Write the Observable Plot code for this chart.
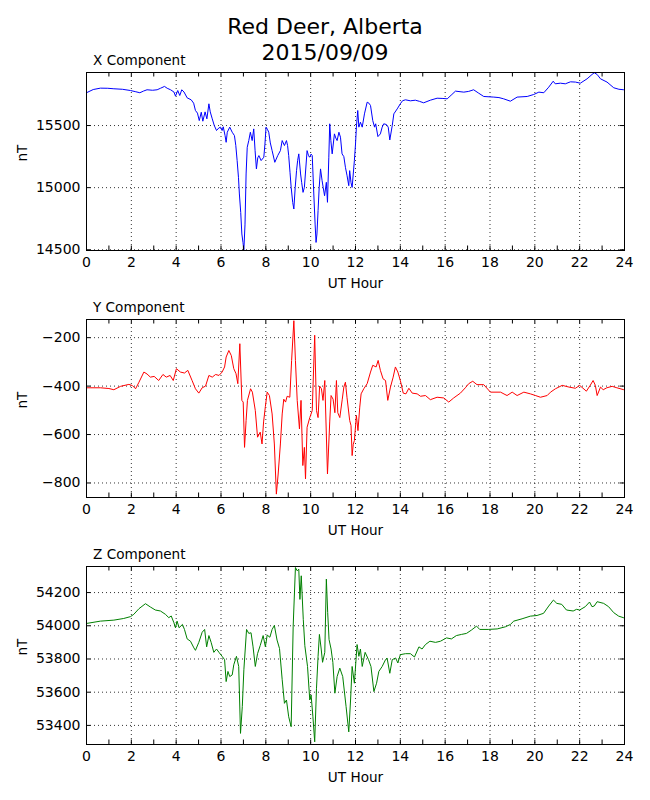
<!DOCTYPE html>
<html>
<head>
<meta charset="utf-8">
<script src="https://cdn.jsdelivr.net/npm/d3@7"></script>
<script src="https://cdn.jsdelivr.net/npm/@observablehq/plot@0.6"></script>
<style>
  body { margin: 0; background: #fff; font-family: "DejaVu Sans", sans-serif; }
  #wrap { position: relative; width: 650px; height: 800px; background: #fff; }
  #title { position: absolute; left: 0; top: 14px; width: 650px; text-align: center;
           font-size: 22px; line-height: 25.7px; color: #000; z-index: 5; }
  .panel { position: absolute; left: 0; z-index: 1; }
</style>
</head>
<body>
<div id="wrap">
  <div id="title">Red Deer, Alberta<br>2015/09/09</div>
</div>
<script>
// ---------- Data (UT hour, nT) ----------
const xHours = [0.00,0.30,0.62,0.95,1.22,1.60,1.96,2.20,2.38,2.55,2.70,2.95,3.15,3.30,3.48,3.60,3.75,3.90,3.97,4.07,4.16,4.25,4.35,4.49,4.67,4.78,4.86,4.95,5.03,5.12,5.19,5.29,5.37,5.46,5.52,5.61,5.70,5.80,5.90,5.98,6.05,6.10,6.18,6.23,6.28,6.39,6.50,6.60,6.66,6.72,6.78,6.82,6.88,6.93,6.98,7.02,7.07,7.12,7.17,7.24,7.31,7.39,7.46,7.52,7.58,7.64,7.69,7.79,7.91,7.96,8.01,8.07,8.13,8.20,8.28,8.40,8.53,8.65,8.73,8.83,8.92,8.97,9.02,9.08,9.13,9.20,9.25,9.31,9.37,9.42,9.47,9.55,9.60,9.66,9.72,9.78,9.84,9.90,9.95,10.02,10.07,10.14,10.20,10.24,10.28,10.33,10.38,10.44,10.51,10.56,10.62,10.70,10.75,10.81,10.85,10.90,10.96,11.06,11.12,11.18,11.26,11.33,11.40,11.48,11.55,11.62,11.70,11.74,11.80,11.85,11.95,12.00,12.04,12.10,12.15,12.22,12.30,12.40,12.52,12.60,12.67,12.77,12.85,12.90,13.00,13.11,13.19,13.26,13.38,13.46,13.53,13.64,13.71,13.86,14.00,14.10,14.23,14.45,14.67,14.85,15.04,15.34,15.64,15.90,16.09,16.30,16.46,16.83,17.05,17.27,17.50,17.72,18.17,18.40,18.61,18.91,19.21,19.66,19.95,20.18,20.40,20.62,20.82,20.91,21.14,21.36,21.59,21.81,22.03,22.33,22.55,22.65,22.78,22.93,23.22,23.52,23.75,23.97,24.00];
const xValues = [15764,15790,15801,15800,15796,15792,15782,15772,15764,15778,15788,15784,15788,15800,15815,15800,15788,15770,15737,15782,15742,15788,15770,15723,15707,15680,15621,15600,15540,15607,15535,15610,15554,15675,15610,15554,15500,15460,15480,15487,15460,15490,15420,15365,15446,15487,15446,15419,15340,15218,15080,14949,14800,14627,14560,14500,14700,15110,15325,15380,15446,15379,15473,15300,15151,15240,15258,15218,15245,15350,15487,15470,15446,15360,15298,15204,15258,15298,15379,15339,15379,15340,15258,15120,15002,14880,14828,15000,15137,15220,15272,15110,15040,14962,15002,15150,15298,15260,15245,15270,15258,14949,14700,14559,14627,14815,15000,15151,15056,15000,14935,15043,14882,15245,15514,15380,15272,15433,15400,15379,15446,15406,15272,15250,15164,15100,15016,15137,15040,15002,15218,15350,15487,15621,15487,15527,15487,15594,15688,15680,15661,15540,15487,15514,15411,15433,15487,15514,15508,15487,15384,15500,15594,15634,15675,15700,15707,15699,15704,15695,15683,15704,15720,15718,15715,15750,15777,15769,15775,15788,15760,15734,15729,15725,15715,15696,15729,15734,15750,15769,15764,15809,15857,15836,15841,15836,15852,15850,15841,15876,15911,15925,15911,15876,15850,15804,15792,15788,15788];

const yHours = [0.00,0.62,1.00,1.22,1.52,1.89,2.05,2.19,2.34,2.56,2.70,2.85,3.02,3.22,3.41,3.56,3.73,3.87,4.01,4.19,4.37,4.52,4.71,4.86,5.01,5.16,5.31,5.46,5.61,5.76,5.91,6.05,6.16,6.23,6.35,6.46,6.57,6.67,6.75,6.84,6.93,6.99,7.05,7.12,7.18,7.32,7.40,7.53,7.63,7.75,7.83,7.90,7.98,8.06,8.16,8.28,8.38,8.47,8.55,8.65,8.73,8.80,8.88,8.95,9.07,9.15,9.25,9.32,9.40,9.50,9.57,9.65,9.72,9.77,9.84,9.96,10.07,10.18,10.26,10.33,10.40,10.48,10.55,10.63,10.75,10.85,10.91,11.00,11.08,11.15,11.21,11.30,11.41,11.48,11.55,11.62,11.74,11.80,11.85,11.90,11.95,12.04,12.11,12.19,12.25,12.37,12.52,12.67,12.77,12.92,13.01,13.11,13.23,13.34,13.44,13.56,13.68,13.78,13.89,14.00,14.13,14.25,14.38,14.53,14.75,14.90,15.12,15.34,15.64,15.94,16.16,16.38,16.68,16.90,17.05,17.23,17.42,17.72,18.02,18.47,18.76,18.99,19.21,19.51,19.80,20.03,20.25,20.55,20.70,20.92,21.22,21.52,21.81,22.00,22.30,22.47,22.60,22.70,22.78,22.93,23.05,23.21,23.45,23.66,23.97,24.00];
const yValues = [-407,-407,-410,-415,-401,-393,-398,-411,-384,-342,-350,-363,-360,-377,-352,-363,-356,-377,-328,-342,-346,-335,-377,-411,-429,-407,-400,-356,-363,-352,-356,-342,-321,-280,-253,-274,-328,-349,-390,-225,-459,-466,-653,-542,-459,-411,-425,-501,-611,-590,-639,-548,-484,-425,-439,-515,-639,-846,-763,-639,-515,-454,-466,-442,-446,-294,-130,-294,-459,-577,-459,-728,-653,-783,-570,-530,-501,-190,-501,-530,-400,-411,-459,-377,-763,-548,-439,-454,-510,-377,-510,-530,-454,-404,-384,-446,-542,-563,-687,-640,-625,-521,-584,-487,-432,-411,-390,-342,-314,-321,-294,-335,-370,-377,-459,-404,-363,-321,-342,-377,-429,-432,-409,-429,-432,-442,-439,-456,-446,-449,-466,-449,-429,-407,-390,-380,-394,-394,-425,-425,-439,-425,-439,-425,-432,-439,-446,-439,-425,-411,-397,-404,-409,-397,-421,-397,-377,-397,-439,-404,-415,-407,-401,-407,-415,-415];

const zHours = [0.00,0.62,1.22,1.66,1.96,2.11,2.34,2.63,2.85,3.07,3.30,3.52,3.67,3.78,3.90,3.97,4.04,4.13,4.28,4.37,4.49,4.64,4.79,4.86,5.01,5.16,5.27,5.36,5.46,5.56,5.68,5.80,5.91,6.05,6.16,6.23,6.31,6.39,6.50,6.57,6.69,6.79,6.87,6.95,7.02,7.14,7.24,7.34,7.43,7.53,7.63,7.75,7.88,7.98,8.06,8.18,8.28,8.38,8.50,8.61,8.73,8.83,8.92,9.02,9.13,9.22,9.32,9.40,9.47,9.52,9.58,9.67,9.74,9.86,9.96,10.02,10.10,10.18,10.26,10.33,10.39,10.47,10.53,10.63,10.70,10.76,10.82,10.91,10.99,11.08,11.18,11.30,11.43,11.58,11.70,11.78,11.85,11.95,12.07,12.15,12.22,12.30,12.43,12.58,12.69,12.82,12.94,13.04,13.19,13.34,13.41,13.53,13.64,13.79,13.89,14.00,14.23,14.45,14.63,14.83,14.97,15.12,15.32,15.57,15.79,16.06,16.28,16.50,16.73,16.95,17.17,17.40,17.54,17.92,18.32,18.69,18.91,19.06,19.43,19.80,20.10,20.39,20.62,20.83,20.98,21.20,21.41,21.71,21.86,22.00,22.25,22.44,22.55,22.65,22.78,23.07,23.29,23.52,23.74,23.97,24.00];
const zValues = [54014,54028,54034,54044,54055,54069,54103,54133,54113,54095,54089,54069,54049,54059,54018,53988,54028,53988,54008,53978,53921,53907,53867,53852,53900,53961,53978,53873,53941,53900,53840,53860,53840,53816,53796,53664,53725,53694,53704,53765,53816,53755,53352,53513,53735,53978,53954,53958,53873,53755,53832,53881,53941,53873,53944,53931,53978,54002,53914,53863,53675,53533,53553,53452,53392,53998,54351,54331,54341,54159,54301,54039,53880,53755,53553,53583,53452,53301,53624,53816,53948,53860,53780,53840,54281,54079,53917,53860,53780,53594,53694,53745,53694,53513,53361,53553,53755,53654,53887,53816,53860,53755,53840,53796,53755,53604,53654,53725,53755,53796,53806,53714,53796,53806,53776,53826,53832,53832,53812,53873,53860,53887,53907,53900,53907,53927,53921,53941,53948,53954,53974,53998,53978,53978,53981,53994,54008,54028,54042,54058,54062,54075,54119,54155,54135,54129,54095,54089,54099,54095,54115,54143,54115,54119,54145,54135,54115,54079,54058,54048,54048];

// Tick labels
const xLabelTicks = [0,2,4,6,8,10,12,14,16,18,20,22,24];
const xMinorTicks = [0,1,2,3,4,5,6,7,8,9,10,11,12,13,14,15,16,17,18,19,20,21,22,23,24];
const xCompTicks = [14500,15000,15500];
const yCompTicks = [-800,-600,-400,-200];
const zCompTicks = [53400,53600,53800,54000,54200];

const panelTitles = ["X Component","Y Component","Z Component"];
const xAxisTitle = "UT Hour";
const yAxisTitle = "nT";

// ---------- Layout ----------
const W = 650, H = 247, MT = 22, MB = 47, ML = 86, MR = 26;
const FH = H - MT - MB, FW = W - ML - MR, TL = 4.5;

function panel(hours, values, color, yDomain, yTicks, title, top) {
  const data = hours.map((h, i) => ({h, v: values[i]}));
  const svg = Plot.plot({
    width: W, height: H,
    marginTop: MT, marginBottom: MB, marginLeft: ML, marginRight: MR,
    style: {fontFamily: "DejaVu Sans", fontSize: "14px", color: "#000", background: "transparent", overflow: "visible"},
    x: {domain: [0, 24], label: null},
    y: {domain: yDomain, label: null},
    marks: [
      Plot.gridX(xLabelTicks, {stroke: "#000", strokeOpacity: 1, strokeWidth: 0.8, strokeDasharray: "1,3"}),
      Plot.gridY(yTicks, {stroke: "#000", strokeOpacity: 1, strokeWidth: 0.8, strokeDasharray: "1,3"}),
      Plot.line(data, {x: "h", y: "v", stroke: color, strokeWidth: 1}),
      Plot.ruleX(xMinorTicks, {x: d => d, insetTop: FH - TL, stroke: "#000"}),
      Plot.ruleX(xMinorTicks, {x: d => d, insetBottom: FH - TL, stroke: "#000"}),
      Plot.ruleY(yTicks, {y: d => d, insetRight: FW - TL, stroke: "#000"}),
      Plot.ruleY(yTicks, {y: d => d, insetLeft: FW - TL, stroke: "#000"}),
      Plot.frame({stroke: "#000", strokeWidth: 1}),
      Plot.axisX({ticks: xLabelTicks, tickSize: 0, tickPadding: 6.5, label: null}),
      Plot.axisY({ticks: yTicks, tickSize: 0, tickPadding: 6, tickFormat: "d", label: null}),
      Plot.text([title], {text: d => d, frameAnchor: "top-left", dx: 6.5, dy: -7.3, lineAnchor: "bottom", textAnchor: "start", fontSize: 13.6}),
      Plot.text([xAxisTitle], {text: d => d, frameAnchor: "bottom", dy: 37.3, lineAnchor: "bottom", fontSize: 13.6}),
      Plot.text([yAxisTitle], {text: d => d, frameAnchor: "left", dx: -63.5, rotate: -90, lineAnchor: "middle", fontSize: 13.6})
    ]
  });
  const div = document.createElement("div");
  div.className = "panel";
  div.style.top = top + "px";
  div.appendChild(svg);
  document.getElementById("wrap").appendChild(div);
}

panel(xHours, xValues, "#0000ff", [14494, 15927], xCompTicks, panelTitles[0], 50);
panel(yHours, yValues, "#ff0000", [-860, -125], yCompTicks, panelTitles[1], 297);
panel(zHours, zValues, "#008000", [53285, 54357], zCompTicks, panelTitles[2], 544);
</script>
</body>
</html>
